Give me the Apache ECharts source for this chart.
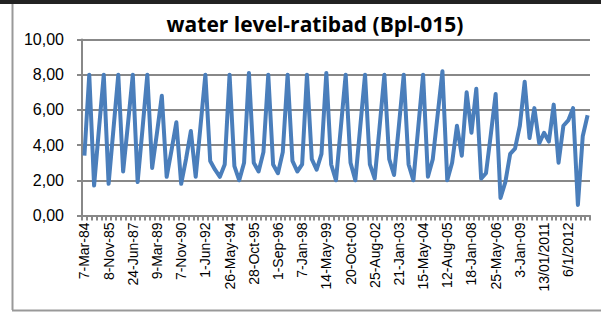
<!DOCTYPE html>
<html>
<head>
<meta charset="utf-8">
<script src="https://cdn.jsdelivr.net/npm/echarts@6/dist/echarts.min.js"></script>
<style>
  html, body { margin: 0; padding: 0; background: #fff; }
  #chart { width: 601px; height: 316px; }
</style>
</head>
<body>
<div id="chart"></div>
<script>
// water level-ratibad (Bpl-015)
var sampleCount = 105;

// labelled dates, one every 5 readings
var tickLabels = ['7-Mar-84', '8-Nov-85', '24-Jun-87', '9-Mar-89', '7-Nov-90', '1-Jun-92',
  '26-May-94', '28-Oct-95', '1-Sep-96', '7-Jan-98', '14-May-99', '20-Oct-00', '25-Aug-02',
  '21-Jan-03', '15-May-04', '12-Aug-05', '18-Jan-08', '25-May-06', '3-Jan-09',
  '13/01/2011', '6/1/2012'];

var waterLevel = [
  3.4, 8.0, 1.7, 4.9, 8.0, 1.8, 4.9, 8.0, 2.5, 5.2,
  8.0, 1.9, 4.9, 8.0, 2.7, 4.7, 6.8, 2.2, 3.7, 5.3,
  1.8, 3.2, 4.8, 2.2, 5.1, 8.0, 3.1, 2.6, 2.2, 2.9,
  8.0, 2.8, 2.0, 3.0, 8.1, 3.0, 2.5, 3.6, 8.0, 2.9,
  2.4, 3.6, 8.0, 3.1, 2.5, 2.9, 8.0, 3.2, 2.6, 3.5,
  8.1, 2.9, 2.0, 5.0, 8.0, 3.0, 2.0, 5.0, 8.0, 2.9,
  2.1, 5.0, 8.0, 3.2, 2.3, 5.1, 8.0, 2.9, 2.0, 5.0,
  8.0, 2.2, 3.2, 5.7, 8.2, 2.0, 3.0, 5.1, 3.4, 7.0,
  4.7, 7.2, 2.1, 2.4, 4.6, 6.9, 1.0, 1.9, 3.5, 3.8,
  5.1, 7.6, 4.4, 6.1, 4.1, 4.7, 4.2, 6.3, 3.0, 5.1,
  5.4, 6.1, 0.6, 4.5, 5.7
];

var categories = [];
for (var i = 0; i < sampleCount; i++) {
  categories.push(i % 5 === 0 ? tickLabels[i / 5] : '');
}

var gridColor = '#888888';
var textColor = '#000';

var chart = echarts.init(document.getElementById('chart'), null, { renderer: 'svg' });
chart.setOption({
  animation: false,
  title: {
    text: 'water level-ratibad (Bpl-015)',
    left: 310,
    textAlign: 'center',
    top: 8,
    textStyle: { fontFamily: 'Open Sans', fontWeight: 'bold', fontSize: 21, color: textColor }
  },
  graphic: [
    { type: 'rect', shape: { x: 0, y: 0, width: 601, height: 4 }, style: { fill: '#222' } },
    { type: 'line', shape: { x1: 12.5, y1: 4, x2: 12.5, y2: 310 }, style: { stroke: '#999', lineWidth: 2 } },
    { type: 'line', shape: { x1: 12, y1: 310.5, x2: 601, y2: 310.5 }, style: { stroke: '#999', lineWidth: 2 } }
  ],
  grid: { left: 82, right: 11, top: 39.5, bottom: 100.5 },
  xAxis: {
    type: 'category',
    data: categories,
    boundaryGap: true,
    axisLine: { lineStyle: { color: gridColor, width: 2 } },
    axisTick: { show: true, interval: 0, length: 5, lineStyle: { color: gridColor, width: 2 } },
    axisLabel: {
      interval: 4,
      rotate: 90,
      color: textColor,
      fontFamily: 'Liberation Sans',
      fontSize: 14,
      margin: 7
    }
  },
  yAxis: {
    type: 'value',
    min: 0,
    max: 10,
    interval: 2,
    axisLine: { show: true, lineStyle: { color: gridColor, width: 2 } },
    axisTick: { show: true, length: 5, lineStyle: { color: gridColor, width: 2 } },
    splitLine: { lineStyle: { color: gridColor, width: 2 } },
    axisLabel: {
      color: textColor,
      fontFamily: 'Liberation Sans',
      fontSize: 16,
      margin: 18,
      formatter: function (v) { return v.toFixed(2).replace('.', ','); }
    }
  },
  series: [{
    name: 'water level',
    type: 'line',
    data: waterLevel,
    showSymbol: false,
    symbol: 'none',
    lineStyle: { color: '#4a7ebb', width: 4, join: 'round' }
  }]
});
</script>
</body>
</html>
